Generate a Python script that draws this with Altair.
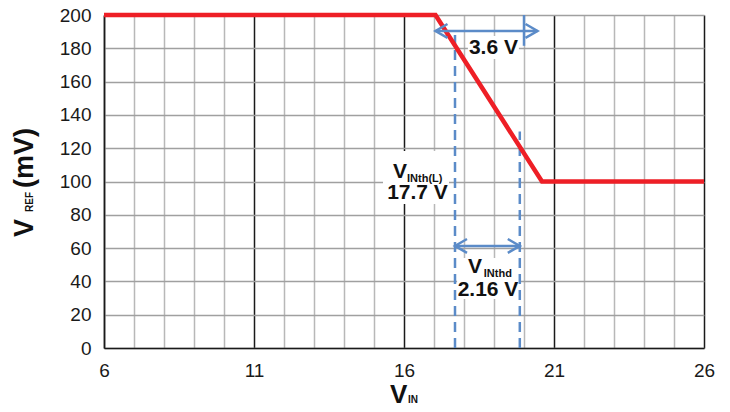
import altair as alt
import pandas as pd

# ---------------- data ----------------
vin_curve = [6, 17.05, 20.6, 26]
vref_curve = [200, 200, 100, 100]

x_ticks = list(range(6, 27))
y_ticks = list(range(0, 201, 20))

# dashed threshold markers (x, y-start, y-end)
dash_x = [17.7, 19.86]
dash_y0 = [0, 0]
dash_y1 = [188, 130]

# arrows (x-start, x-end, y)
arrow_x1 = [17.05, 17.7]
arrow_x2 = [20.45, 19.86]
arrow_y = [190.4, 61.3]

# end bar of upper arrow
bar_x = [20.0]
bar_y0 = [181.5]
bar_y1 = [200]

# white label backgrounds
box_x1 = [15.3, 17.77, 18.13]
box_x2 = [17.5, 19.87, 19.83]
box_y1 = [86.5, 29.4, 173.6]
box_y2 = [118.3, 54.0, 187.4]

# annotation texts (left aligned)
lt_text = ["V", "INth(L)", "V", "INthd"]
lt_x = [15.63, 16.1, 18.13, 18.66]
lt_y = [102.1, 99.7, 45.0, 42.9]
lt_size = [21, 11, 21, 11]

# annotation texts (centered)
ct_text = ["17.7 V", "2.16 V", "3.6 V"]
ct_x = [16.45, 18.8, 18.98]
ct_y = [89.5, 31.2, 176.6]
ct_size = [21, 21, 21]

FONT = "Liberation Sans"
RED = "#ee1f26"
BLUE = "#5b8bc8"

xs = alt.Scale(domain=[6, 26], nice=False, zero=False)
ys = alt.Scale(domain=[0, 200], nice=False)

curve = pd.DataFrame({"vin": vin_curve, "vref": vref_curve})
dashes = pd.DataFrame({"x": dash_x, "y0": dash_y0, "y1": dash_y1})
arrows = pd.DataFrame({"x1": arrow_x1, "x2": arrow_x2, "y": arrow_y})
bars = pd.DataFrame({"x": bar_x, "y0": bar_y0, "y1": bar_y1})
boxes = pd.DataFrame({"x1": box_x1, "x2": box_x2, "y1": box_y1, "y2": box_y2})
ltxt = pd.DataFrame({"x": lt_x, "y": lt_y, "t": lt_text, "s": lt_size})
ctxt = pd.DataFrame({"x": ct_x, "y": ct_y, "t": ct_text, "s": ct_size})

x_axis = alt.Axis(
    values=x_ticks,
    labelExpr="datum.value % 5 === 1 ? datum.label : ''",
    grid=True,
    gridColor={"condition": {"test": "datum.value % 5 === 1", "value": "#1a1a1a"}, "value": "#b8b8b8"},
    gridWidth=1.5,
    domainColor="#1a1a1a",
    domainWidth=1.5,
    ticks=False,
    tickSize=0,
    labelFont=FONT,
    labelFontSize=19,
    labelColor="#1a1a1a",
    labelPadding=13,
    labelFlush=False,
    labelOverlap=False,
    title=None,
)
y_axis = alt.Axis(
    values=y_ticks,
    grid=True,
    gridColor="#a0a0a0",
    gridWidth=1.5,
    domainColor="#1a1a1a",
    domainWidth=1.5,
    ticks=False,
    tickSize=0,
    labelFont=FONT,
    labelFontSize=19,
    labelColor="#1a1a1a",
    labelPadding=13,
    labelFlush=False,
    title=None,
)


def X(f):
    return alt.X(f, scale=xs, axis=x_axis)


def Y(f):
    return alt.Y(f, scale=ys, axis=y_axis)


boxes_l = alt.Chart(boxes).mark_rect(color="white").encode(
    x=X("x1:Q"), x2="x2:Q", y=Y("y1:Q"), y2="y2:Q",
)

curve_l = alt.Chart(curve).mark_line(color=RED, strokeWidth=4.5, strokeCap="butt").encode(
    x=X("vin:Q"), y=Y("vref:Q"),
)

dash_l = alt.Chart(dashes).mark_rule(color=BLUE, strokeWidth=2.5, strokeDash=[10, 6]).encode(
    x=X("x:Q"), y=Y("y0:Q"), y2="y1:Q",
)

arrow_l = alt.Chart(arrows).mark_rule(color=BLUE, strokeWidth=2.5).encode(
    x=X("x1:Q"), x2="x2:Q", y=Y("y:Q"),
)

bar_l = alt.Chart(bars).mark_rule(color=BLUE, strokeWidth=2.5).encode(
    x=X("x:Q"), y=Y("y0:Q"), y2="y1:Q",
)

head_left = alt.Chart(arrows).mark_point(
    shape="M1,-0.58L0,0L1,0.58", filled=False, stroke=BLUE, strokeWidth=2.5, size=576, opacity=1
).encode(x=X("x1:Q"), y=Y("y:Q"))
head_right = alt.Chart(arrows).mark_point(
    shape="M-1,-0.58L0,0L-1,0.58", filled=False, stroke=BLUE, strokeWidth=2.5, size=576, opacity=1
).encode(x=X("x2:Q"), y=Y("y:Q"))

ltxt_l = alt.Chart(ltxt).mark_text(
    align="left", baseline="alphabetic", font=FONT, fontWeight="bold", color="#111"
).encode(
    x=X("x:Q"), y=Y("y:Q"), text="t:N",
    size=alt.Size("s:Q", scale=None, legend=None),
)
ctxt_l = alt.Chart(ctxt).mark_text(
    align="center", baseline="alphabetic", font=FONT, fontWeight="bold", color="#111"
).encode(
    x=X("x:Q"), y=Y("y:Q"), text="t:N",
    size=alt.Size("s:Q", scale=None, legend=None),
)

# axis titles with subscripts (pixel positions relative to plot area)
title_df = pd.DataFrame({"k": [0]})


def tt(text, x, y, size, angle=0):
    kw = dict(align="left", baseline="alphabetic", font=FONT, fontWeight="bold",
              fontSize=size, color="#111", text=text)
    if angle:
        kw["angle"] = angle
    return alt.Chart(title_df).mark_text(**kw).encode(x=alt.value(x), y=alt.value(y))


titles = [
    tt("V", -71, 222, 27, 270),
    tt("REF", -71, 197, 10, 270),
    tt("(mV)", -71, 173, 27, 270),
    tt("V", 286, 388, 26),
    tt("IN", 304, 388, 10),
]

chart = alt.layer(
    boxes_l, dash_l, curve_l, arrow_l, bar_l, head_left, head_right, ltxt_l, ctxt_l, *titles
).properties(
    width=600,
    height=333,
    autosize=alt.AutoSizeParams(type="none"),
    padding={"left": 96, "top": 7, "right": 18, "bottom": 62},
).configure_view(stroke="#333", strokeWidth=1.5).configure(background="white")

chart.save("out.html", embed_options={"renderer": "svg", "actions": False})
